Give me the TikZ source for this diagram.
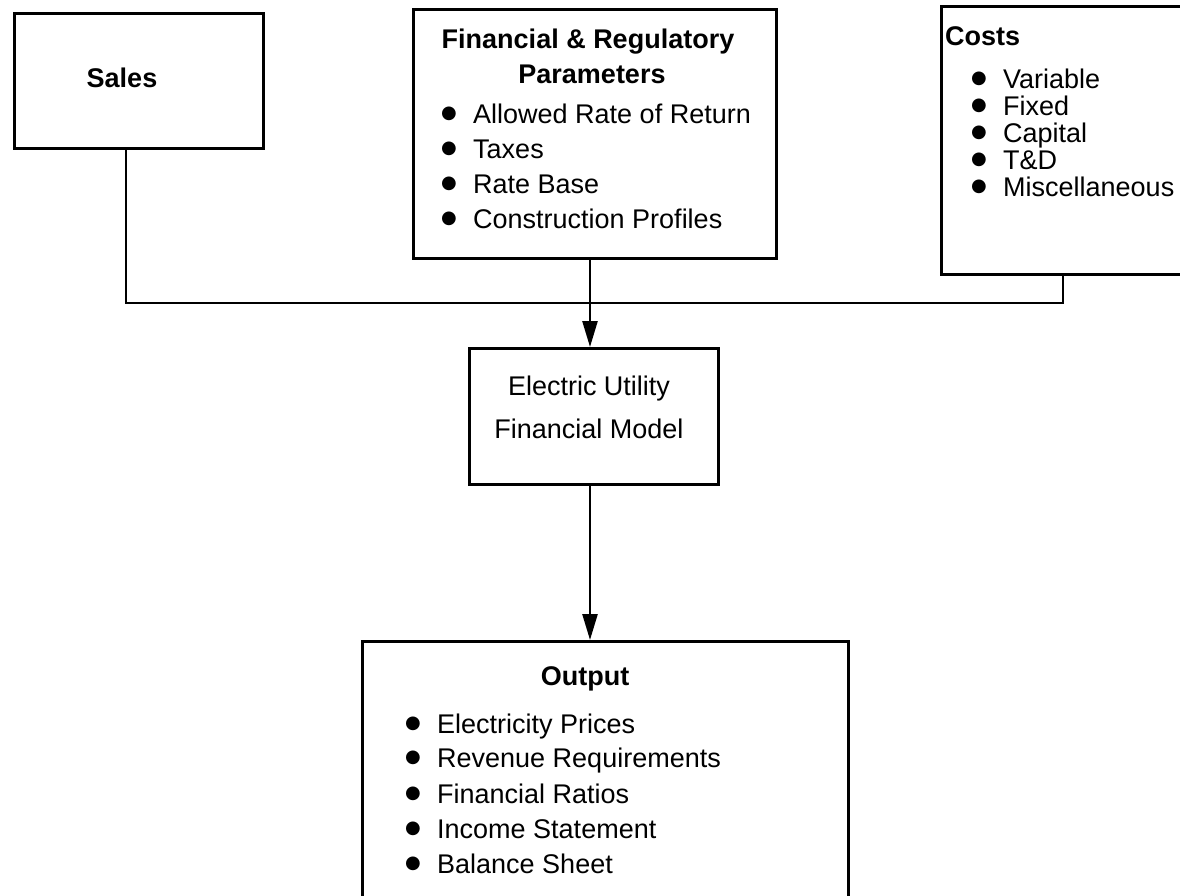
\documentclass[tikz,border=0pt]{standalone}
\usepackage{fontspec}
\setmainfont{Liberation Sans}
\newfontfamily\symfont{DejaVu Sans}
\usetikzlibrary{arrows.meta}
\newcommand\fs{\fontsize{27}{32}\selectfont}
% bullet item: name, text x, baseline y, text
\newcommand\bitem[4]{%
  \node[dot] (#1b) at ({#2-24},{#3-9.5}) {●};
  \node[itemline] (#1) at (#2,#3) {#4};}
\begin{document}
\begin{tikzpicture}[x=1pt,y=-1pt,
  box/.style={draw, line width=2.5pt, inner sep=0pt, anchor=north west},
  wire/.style={line width=2.5pt},
  arr/.style={wire, -{Triangle[length=26pt,width=15pt]}},
  ttl/.style={anchor=base, inner sep=0pt, font=\fs\bfseries},
  txt/.style={anchor=base, inner sep=0pt, font=\fs},
  dot/.style={anchor=center, inner sep=0pt, font=\symfont\fontsize{18}{18}\selectfont},
  itemline/.style={anchor=base west, inner sep=0pt, font=\fs}]
\useasboundingbox (0,0) rectangle (1180,895);

% boxes
\node[box, minimum width=249pt, minimum height=135pt] (sales) at (13,12) {};
\node[box, minimum width=363pt, minimum height=249pt] (fin) at (412,8) {};
\node[box, minimum width=270pt, minimum height=268pt] (costs) at (940,5) {};
\node[box, minimum width=249pt, minimum height=136pt] (eu) at (468,347) {};
\node[box, minimum width=486pt, minimum height=280pt] (out) at (361,640) {};

% Sales
\node[ttl] (salesT) at (122,87) {Sales};

% Financial & Regulatory Parameters
\node[ttl] (finT1) at (588,48) {Financial \& Regulatory};
\node[ttl] (finT2) at (592,83) {Parameters};
\bitem{fin1}{473}{123}{Allowed Rate of Return}
\bitem{fin2}{473}{158}{Taxes}
\bitem{fin3}{473}{193}{Rate Base}
\bitem{fin4}{473}{228}{Construction Profiles}

% Costs
\node[itemline, font=\fs\bfseries] (costsT) at (945,45) {Costs};
\bitem{c1}{1003}{88}{Variable}
\bitem{c2}{1003}{115}{Fixed}
\bitem{c3}{1003}{142}{Capital}
\bitem{c4}{1003}{169}{T\&D}
\bitem{c5}{1003}{196}{Miscellaneous}

% Model
\node[txt] (eu1) at (589,395) {Electric Utility};
\node[txt] (eu2) at (589,438) {Financial Model};

% Output
\node[ttl] (outT) at (585,685) {Output};
\bitem{o1}{437}{733}{Electricity Prices}
\bitem{o2}{437}{767}{Revenue Requirements}
\bitem{o3}{437}{803}{Financial Ratios}
\bitem{o4}{437}{838}{Income Statement}
\bitem{o5}{437}{873}{Balance Sheet}

% connectors
\coordinate (sj) at (126,303);
\coordinate (cj) at (1063,303);
\coordinate (mj) at (590,303);
\draw[wire] (sales.south -| sj) -- (sj) -- (cj) -- (costs.south -| cj);
\draw[arr] (fin.south -| mj) -- (eu.north -| mj);
\draw[arr] (eu.south -| mj) -- (out.north -| mj);
\end{tikzpicture}
\end{document}
